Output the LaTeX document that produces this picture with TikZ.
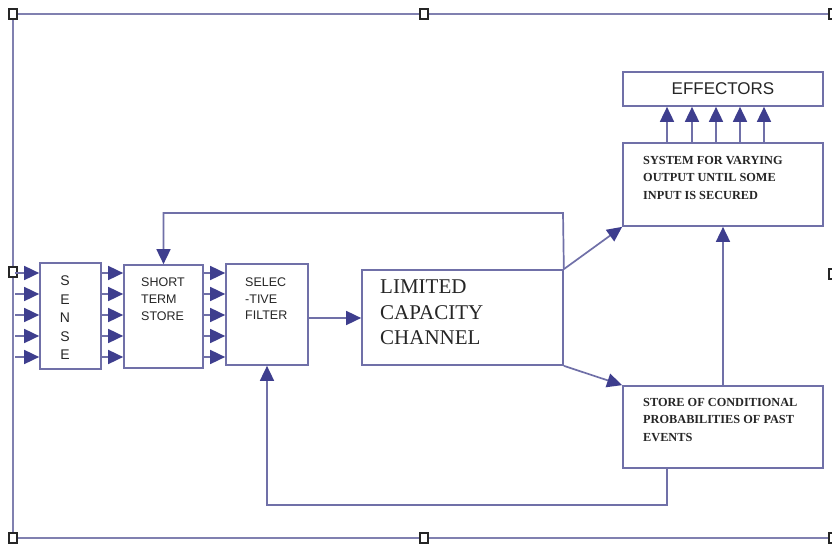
\documentclass[tikz,border=0pt]{standalone}
\usepackage{fontspec}
\setmainfont{Liberation Serif}
\newfontfamily\arialf{Liberation Sans}
\usetikzlibrary{arrows.meta}
\definecolor{linec}{HTML}{7070A8}
\definecolor{tipc}{HTML}{3E3E8E}
\definecolor{framec}{HTML}{8080B0}
\begin{document}
\begin{tikzpicture}[x=1pt,y=-1pt,
  box/.style={draw=linec, line width=1.7pt, fill=white, inner sep=0pt},
  txt/.style={inner sep=0pt, text=black!85},
  arr/.style={draw=linec, line width=1.7pt, -{Triangle[length=15pt,width=14pt,fill=tipc,color=tipc]}},
  handle/.style={draw=black!85, fill=white, line width=1.5pt, minimum width=8pt, minimum height=10pt, inner sep=0pt}]
\fill[white] (0,0) rectangle (832,545);
\useasboundingbox (0,0) rectangle (832,545);
% frame
\draw[framec, line width=1.4pt] (13,14) rectangle (833,538);
\node[handle] (h1) at (13,14) {};
\node[handle] (h2) at (424,14) {};
\node[handle] (h3) at (833,14) {};
\node[handle] (h4) at (13,272) {};
\node[handle] (h5) at (833,274) {};
\node[handle] (h6) at (13,538) {};
\node[handle] (h7) at (424,538) {};
\node[handle] (h8) at (833,538) {};
% boxes
\node[box, minimum width=61pt, minimum height=106pt] (sense) at (70.5,316) {};
\node[box, minimum width=79pt, minimum height=103pt] (stm) at (163.5,316.5) {};
\node[box, minimum width=82pt, minimum height=101pt] (filt) at (267,314.5) {};
\node[box, minimum width=201pt, minimum height=95pt] (lcc) at (462.5,317.5) {};
\node[box, minimum width=200pt, minimum height=34pt] (eff) at (723,89) {};
\node[box, minimum width=200pt, minimum height=83pt] (sys) at (723,184.5) {};
\node[box, minimum width=200pt, minimum height=82pt] (store) at (723,427) {};
% texts
\node[txt, align=center, font=\arialf\fontsize{14}{18.5}\selectfont] (senseT) at (65,318) {S\\E\\N\\S\\E};
\node[txt, anchor=north west, align=left, font=\arialf\fontsize{12.5}{17}\selectfont] (stmT) at (141,277.5) {SHORT\\TERM\\STORE};
\node[txt, anchor=north west, align=left, font=\arialf\fontsize{12.5}{16.5}\selectfont] (filtT) at (245,278) {SELEC\\-TIVE\\FILTER};
\node[txt, anchor=north west, align=left, font=\fontsize{21}{25.5}\selectfont] (lccT) at (380,280) {LIMITED\\CAPACITY\\CHANNEL};
\node[txt, font=\arialf\fontsize{17}{20}\selectfont] (effT) at (723,89) {EFFECTORS};
\node[txt, anchor=north west, align=left, font=\bfseries\fontsize{12.3}{17.5}\selectfont] (sysT) at (643,156) {SYSTEM FOR VARYING\\OUTPUT UNTIL SOME\\INPUT IS SECURED};
\node[txt, anchor=north west, align=left, font=\bfseries\fontsize{12.3}{17.5}\selectfont] (storeT) at (643,398) {STORE OF CONDITIONAL\\PROBABILITIES OF PAST\\EVENTS};
% input rows
\foreach \y [count=\i] in {273,294,315,336,357} {
  \coordinate (in\i) at (15,\y);
}
\foreach \i in {1,...,5} {
  \draw[arr] (in\i) -- (in\i -| sense.west);
  \draw[arr] (in\i -| sense.east) -- (in\i -| stm.west);
  \draw[arr] (in\i -| stm.east) -- (in\i -| filt.west);
}
% filter to channel
\coordinate (fl) at (0,318);
\draw[arr] (fl -| filt.east) -- (fl -| lcc.west);
% top feedback
\coordinate (fbTop) at (563,213);
\draw[arr] (lcc.north east) -- (fbTop) -| (stm.north);
% channel outputs
\draw[arr] (lcc.north east) -- (sys.south west);
\draw[arr] (lcc.south east) -- (store.north west);
% store to system
\draw[arr] (store.north) -- (sys.south);
% bottom feedback
\coordinate (fbB) at (667,505);
\draw[arr] (fbB |- store.south) -- (fbB) -| (filt.south);
% system to effectors
\foreach \x [count=\i] in {667,692,716,740,764} {
  \coordinate (e\i) at (\x,0);
  \draw[arr] (e\i |- sys.north) -- (e\i |- eff.south);
}
\end{tikzpicture}
\end{document}
